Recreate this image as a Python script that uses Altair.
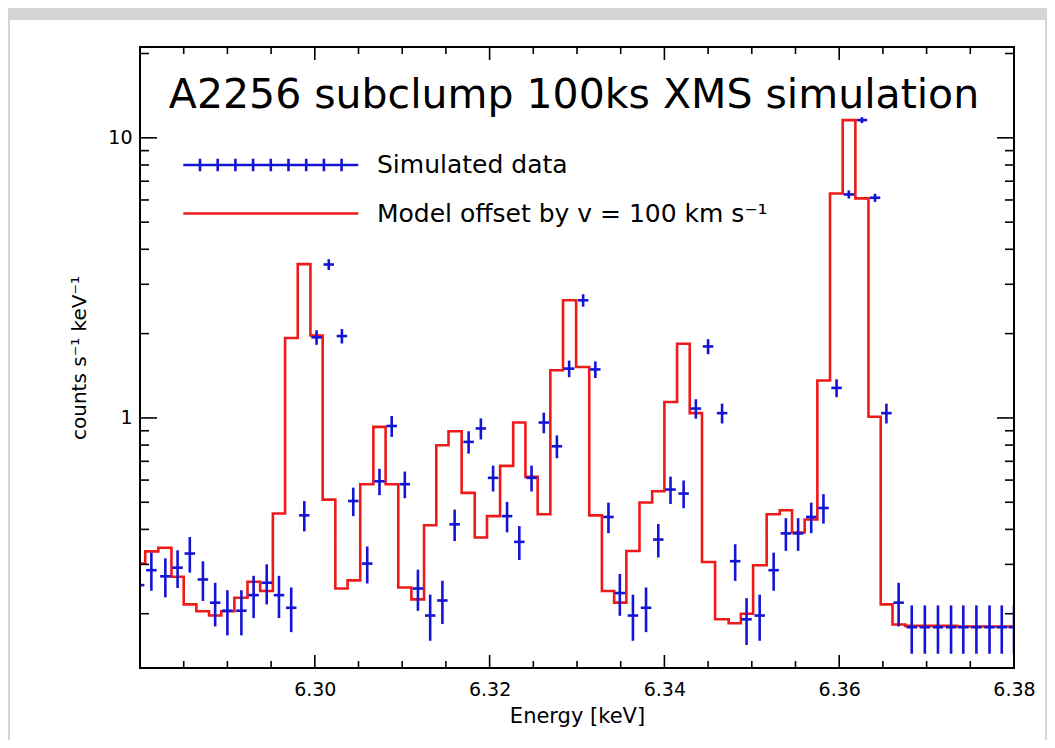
import altair as alt
import pandas as pd

# ---------------- data ----------------
energy = [6.2799, 6.2813, 6.2829, 6.2843, 6.2857, 6.2872, 6.2886, 6.2900, 6.2916, 6.2930,
          6.2945, 6.2959, 6.2973, 6.2988, 6.3002, 6.3016, 6.3031, 6.3044, 6.3060, 6.3074,
          6.3088, 6.3103, 6.3118, 6.3132, 6.3146, 6.3160, 6.3176, 6.3190, 6.3204, 6.3220,
          6.3234, 6.3248, 6.3262, 6.3277, 6.3291, 6.3307, 6.3321, 6.3336, 6.3349, 6.3364,
          6.3379, 6.3393, 6.3407, 6.3422, 6.3436, 6.3450, 6.3466, 6.3481, 6.3494, 6.3509,
          6.3525, 6.3539, 6.3553, 6.3568, 6.3582, 6.3597, 6.3611, 6.3626, 6.3641, 6.3654,
          6.3668, 6.3683, 6.3698, 6.3713, 6.3728, 6.3742, 6.3757, 6.3772, 6.3786, 6.3800]

counts = [0.253, 0.286, 0.272, 0.292, 0.328, 0.265, 0.219, 0.205, 0.205, 0.233,
          0.258, 0.233, 0.210, 0.449, 1.94, 3.53, 1.96, 0.505, 0.302, 0.594,
          0.936, 0.580, 0.246, 0.197, 0.223, 0.417, 0.821, 0.917, 0.611, 0.446,
          0.361, 0.611, 0.963, 0.792, 1.50, 2.63, 1.49, 0.443, 0.237, 0.197,
          0.210, 0.368, 0.555, 0.537, 1.08, 1.80, 1.04, 0.308, 0.191, 0.197,
          0.286, 0.387, 0.387, 0.443, 0.477, 1.28, 6.28, 11.57, 6.11, 1.04,
          0.219, 0.179, 0.179, 0.179, 0.179, 0.179, 0.179, 0.179, 0.179, 0.179]

count_err = [0.0418, 0.0444, 0.0433, 0.0449, 0.0476, 0.0428, 0.0389, 0.0376, 0.0376, 0.0401,
             0.0422, 0.0401, 0.0381, 0.0556, 0.1157, 0.1560, 0.1163, 0.0590, 0.0456, 0.0640,
             0.0803, 0.0632, 0.0412, 0.0369, 0.0392, 0.0536, 0.0752, 0.0795, 0.0649, 0.0555,
             0.0499, 0.0649, 0.0815, 0.0739, 0.1017, 0.1347, 0.1014, 0.0553, 0.0404, 0.0369,
             0.0381, 0.0504, 0.0619, 0.0609, 0.0863, 0.1114, 0.0847, 0.0461, 0.0363, 0.0369,
             0.0444, 0.0517, 0.0517, 0.0553, 0.0574, 0.0940, 0.2081, 0.2825, 0.2053, 0.0847,
             0.0389, 0.0351, 0.0351, 0.0351, 0.0351, 0.0351, 0.0351, 0.0351, 0.0351, 0.0351]

model = [0.302, 0.334, 0.344, 0.271, 0.216, 0.204, 0.197, 0.204, 0.228, 0.260,
         0.241, 0.456, 1.93, 3.54, 1.97, 0.511, 0.246, 0.263, 0.580, 0.929,
         0.580, 0.248, 0.225, 0.414, 0.799, 0.896, 0.540, 0.374, 0.446, 0.674,
         0.963, 0.616, 0.453, 1.48, 2.63, 1.52, 0.449, 0.241, 0.219, 0.335,
         0.499, 0.547, 1.14, 1.84, 1.04, 0.306, 0.191, 0.185, 0.200, 0.298,
         0.453, 0.468, 0.390, 0.434, 1.36, 6.33, 11.57, 6.08, 1.01, 0.216,
         0.183, 0.181, 0.181, 0.181, 0.181, 0.180, 0.180, 0.180, 0.180, 0.180]

x_label_values = [6.30, 6.32, 6.34, 6.36, 6.38]
x_major_ticks = [6.28, 6.30, 6.32, 6.34, 6.36, 6.38]
x_minor_ticks = [6.285, 6.29, 6.295, 6.305, 6.31, 6.315, 6.325, 6.33, 6.335,
                 6.345, 6.35, 6.355, 6.365, 6.37, 6.375]
y_label_values = [1, 10]
y_major_ticks = [1, 10]
y_minor_ticks = [0.2, 0.3, 0.4, 0.5, 0.6, 0.7, 0.8, 0.9, 2, 3, 4, 5, 6, 7, 8, 9, 20]

series_labels = ["Simulated data", "Model offset by v = 100 km s\u207b\u00b9"]
title_text = "A2256 subclump 100ks XMS simulation"
x_title = "Energy [keV]"
y_title = "counts  s\u207b\u00b9  keV\u207b\u00b9"

# ---------------- style ----------------
W, H = 874, 621
FONT = "DejaVu Sans"
BLUE = "#1414d4"
RED = "#ee1a1a"
HALF_BIN = 0.0006

df = pd.DataFrame({"energy": energy, "counts": counts, "err": count_err, "model": model})
df["lo"] = df["counts"] - df["err"]
df["hi"] = df["counts"] + df["err"]
df["e_lo"] = df["energy"] - HALF_BIN
df["e_hi"] = df["energy"] + HALF_BIN

xs = alt.Scale(domain=[6.28, 6.38], nice=False, zero=False)
ys = alt.Scale(type="log", domain=[0.128, 21.1], nice=False)

x_axis = alt.Axis(values=x_label_values, format=".2f", ticks=False, domain=False, grid=False,
                  labelFont=FONT, labelFontSize=19, labelPadding=12, labelColor="black",
                  labelFlush=False, title=x_title, titleFont=FONT, titleFontSize=21,
                  titleFontWeight="normal", titlePadding=6, titleColor="black", zindex=2)
y_axis = alt.Axis(values=y_label_values, format="~g", ticks=False, domain=False, grid=False,
                  labelFont=FONT, labelFontSize=19, labelPadding=8, labelColor="black",
                  title=y_title, titleFont=FONT, titleFontSize=20, titleFontWeight="normal",
                  titlePadding=18, titleColor="black", zindex=2)

def X(field):
    return alt.X(field, scale=xs, axis=x_axis)

def Y(field):
    return alt.Y(field, scale=ys, axis=y_axis)

one = pd.DataFrame({"k": [0]})

# white panel on grey background
panel = alt.Chart(one).mark_rect(color="white").encode(
    x=alt.value(-130), x2=alt.value(905), y=alt.value(-27), y2=alt.value(693))

model_line = alt.Chart(df).mark_line(interpolate="step", color=RED, strokeWidth=2.6, clip=True).encode(
    x=X("energy:Q"), y=Y("model:Q"))

vbars = alt.Chart(df).mark_rule(color=BLUE, strokeWidth=2.6, clip=True).encode(
    x=X("energy:Q"), y=Y("lo:Q"), y2="hi:Q")

hbars = alt.Chart(df).mark_rule(color=BLUE, strokeWidth=2.6, clip=True).encode(
    x=X("e_lo:Q"), x2="e_hi:Q", y=Y("counts:Q"))

# legend (native legend with custom symbols)
unit = 15.0  # px per symbol unit (sqrt(900)/2)
tick_offsets = [-70.8, -53.1, -35.4, -17.7, 0, 17.7, 35.4, 53.1, 70.8]
half_len = 87.5 / unit
tick_h = 6.3 / unit
path_data = f"M{-half_len:.3f},0H{half_len:.3f}" + "".join(
    f"M{t / unit:.3f},{-tick_h:.3f}V{tick_h:.3f}" for t in tick_offsets)
path_model = f"M{-half_len:.3f},0H{half_len:.3f}"

leg = alt.Legend(orient="none", legendX=0, legendY=101.5, title=None, direction="vertical",
                 symbolSize=900, symbolStrokeWidth=2.6, symbolOffset=114.3, labelOffset=89.7,
                 labelFont=FONT, labelFontSize=25, labelColor="black", labelLimit=0,
                 rowPadding=18.5, labelBaseline="middle", symbolFillColor="transparent",
                 symbolOpacity=1)

legend_df = pd.DataFrame({"series": series_labels, "energy": [6.0, 6.0], "counts": [1.0, 1.0]})
legend_layer = alt.Chart(legend_df).mark_point(filled=False, clip=True, strokeWidth=2.6, opacity=1).encode(
    x=X("energy:Q"), y=Y("counts:Q"),
    color=alt.Color("series:N", scale=alt.Scale(domain=series_labels, range=[BLUE, RED]), legend=leg),
    shape=alt.Shape("series:N", scale=alt.Scale(domain=series_labels, range=[path_data, path_model]), legend=leg))

title_layer = alt.Chart(one).mark_text(font=FONT, fontSize=41, align="center", baseline="alphabetic",
                                      color="black").encode(
    x=alt.value(434), y=alt.value(61), text=alt.value(title_text))

# inward ticks on all four sides
def xticks(vals, length):
    d = pd.DataFrame({"energy": vals})
    bottom = alt.Chart(d).mark_rule(color="black", strokeWidth=1.6).encode(
        x=X("energy:Q"), y=alt.value(H), y2=alt.value(H - length))
    top = alt.Chart(d).mark_rule(color="black", strokeWidth=1.6).encode(
        x=X("energy:Q"), y=alt.value(0), y2=alt.value(length))
    return [bottom, top]

def yticks(vals, length):
    d = pd.DataFrame({"counts": vals})
    left = alt.Chart(d).mark_rule(color="black", strokeWidth=1.6).encode(
        y=Y("counts:Q"), x=alt.value(0), x2=alt.value(length))
    right = alt.Chart(d).mark_rule(color="black", strokeWidth=1.6).encode(
        y=Y("counts:Q"), x=alt.value(W), x2=alt.value(W - length))
    return [left, right]

ticks = xticks(x_major_ticks, 13) + xticks(x_minor_ticks, 7) + yticks(y_major_ticks, 17) + yticks(y_minor_ticks, 9)

frame = alt.Chart(one).mark_rect(fill=None, stroke="black", strokeWidth=2).encode(
    x=alt.value(0), x2=alt.value(W), y=alt.value(0), y2=alt.value(H))

chart = alt.layer(panel, model_line, vbars, hbars, legend_layer, title_layer, *ticks, frame).properties(
    width=W, height=H,
    autosize=alt.AutoSizeParams(type="none"),
    padding={"left": 132, "top": 39, "right": 33, "bottom": 72},
    background="#d5d5d5",
).configure_view(stroke=None)

chart.save("out.html", embed_options={"renderer": "svg", "actions": False})
